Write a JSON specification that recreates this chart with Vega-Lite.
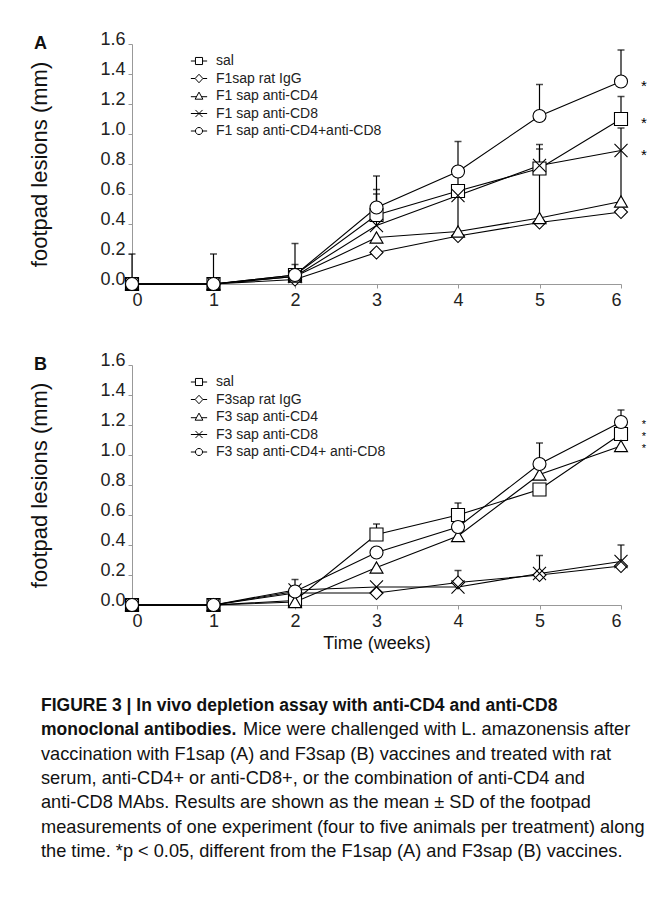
{
  "$schema": "https://vega.github.io/schema/vega-lite/v6.json",
  "padding": {"left": 28, "top": 30, "right": 5, "bottom": 5},
  "spacing": 42,
  "config": {
    "font": "Liberation Sans",
    "view": {"stroke": null},
    "axis": {"grid": false, "labelColor": "#222", "titleColor": "#111", "titleFontWeight": "normal", "domainColor": "#999", "tickColor": "#999", "labelFont": "Liberation Sans", "titleFont": "Liberation Sans"}
  },
  "datasets": {
    "A": [
      {"week": 0, "series": "sal", "value": 0},
      {"week": 1, "series": "sal", "value": 0},
      {"week": 2, "series": "sal", "value": 0.06, "top": 0.13},
      {"week": 3, "series": "sal", "value": 0.46, "top": 0.63},
      {"week": 4, "series": "sal", "value": 0.62},
      {"week": 5, "series": "sal", "value": 0.77, "top": 0.9},
      {"week": 6, "series": "sal", "value": 1.1, "top": 1.25, "sig": "*"},
      {"week": 0, "series": "F1sap rat IgG", "value": 0},
      {"week": 1, "series": "F1sap rat IgG", "value": 0},
      {"week": 2, "series": "F1sap rat IgG", "value": 0.03},
      {"week": 3, "series": "F1sap rat IgG", "value": 0.21},
      {"week": 4, "series": "F1sap rat IgG", "value": 0.32},
      {"week": 5, "series": "F1sap rat IgG", "value": 0.41},
      {"week": 6, "series": "F1sap rat IgG", "value": 0.48},
      {"week": 0, "series": "F1 sap anti-CD4", "value": 0},
      {"week": 1, "series": "F1 sap anti-CD4", "value": 0},
      {"week": 2, "series": "F1 sap anti-CD4", "value": 0.05},
      {"week": 3, "series": "F1 sap anti-CD4", "value": 0.31},
      {"week": 4, "series": "F1 sap anti-CD4", "value": 0.35, "top": 0.75},
      {"week": 5, "series": "F1 sap anti-CD4", "value": 0.44, "top": 0.78},
      {"week": 6, "series": "F1 sap anti-CD4", "value": 0.55, "top": 1.04},
      {"week": 0, "series": "F1 sap anti-CD8", "value": 0},
      {"week": 1, "series": "F1 sap anti-CD8", "value": 0},
      {"week": 2, "series": "F1 sap anti-CD8", "value": 0.05},
      {"week": 3, "series": "F1 sap anti-CD8", "value": 0.39, "top": 0.6},
      {"week": 4, "series": "F1 sap anti-CD8", "value": 0.59},
      {"week": 5, "series": "F1 sap anti-CD8", "value": 0.79, "top": 0.93},
      {"week": 6, "series": "F1 sap anti-CD8", "value": 0.89, "sig": "*"},
      {"week": 0, "series": "F1 sap anti-CD4+anti-CD8", "value": 0, "top": 0.2},
      {"week": 1, "series": "F1 sap anti-CD4+anti-CD8", "value": 0, "top": 0.2},
      {"week": 2, "series": "F1 sap anti-CD4+anti-CD8", "value": 0.06, "top": 0.27},
      {"week": 3, "series": "F1 sap anti-CD4+anti-CD8", "value": 0.51, "top": 0.72},
      {"week": 4, "series": "F1 sap anti-CD4+anti-CD8", "value": 0.75, "top": 0.95},
      {"week": 5, "series": "F1 sap anti-CD4+anti-CD8", "value": 1.12, "top": 1.33},
      {"week": 6, "series": "F1 sap anti-CD4+anti-CD8", "value": 1.35, "top": 1.56, "sig": "*"}
    ],
    "B": [
      {"week": 0, "series": "sal", "value": 0},
      {"week": 1, "series": "sal", "value": 0},
      {"week": 2, "series": "sal", "value": 0.03},
      {"week": 3, "series": "sal", "value": 0.47, "top": 0.54},
      {"week": 4, "series": "sal", "value": 0.6, "top": 0.68},
      {"week": 5, "series": "sal", "value": 0.77},
      {"week": 6, "series": "sal", "value": 1.14, "sig": "*"},
      {"week": 0, "series": "F3sap rat IgG", "value": 0},
      {"week": 1, "series": "F3sap rat IgG", "value": 0},
      {"week": 2, "series": "F3sap rat IgG", "value": 0.08},
      {"week": 3, "series": "F3sap rat IgG", "value": 0.08},
      {"week": 4, "series": "F3sap rat IgG", "value": 0.15, "top": 0.23},
      {"week": 5, "series": "F3sap rat IgG", "value": 0.2},
      {"week": 6, "series": "F3sap rat IgG", "value": 0.26},
      {"week": 0, "series": "F3 sap anti-CD4", "value": 0},
      {"week": 1, "series": "F3 sap anti-CD4", "value": 0},
      {"week": 2, "series": "F3 sap anti-CD4", "value": 0.02},
      {"week": 3, "series": "F3 sap anti-CD4", "value": 0.25},
      {"week": 4, "series": "F3 sap anti-CD4", "value": 0.46},
      {"week": 5, "series": "F3 sap anti-CD4", "value": 0.87},
      {"week": 6, "series": "F3 sap anti-CD4", "value": 1.06, "sig": "*"},
      {"week": 0, "series": "F3 sap anti-CD8", "value": 0},
      {"week": 1, "series": "F3 sap anti-CD8", "value": 0},
      {"week": 2, "series": "F3 sap anti-CD8", "value": 0.1},
      {"week": 3, "series": "F3 sap anti-CD8", "value": 0.12},
      {"week": 4, "series": "F3 sap anti-CD8", "value": 0.12},
      {"week": 5, "series": "F3 sap anti-CD8", "value": 0.21, "top": 0.33},
      {"week": 6, "series": "F3 sap anti-CD8", "value": 0.29, "top": 0.4},
      {"week": 0, "series": "F3 sap anti-CD4+ anti-CD8", "value": 0},
      {"week": 1, "series": "F3 sap anti-CD4+ anti-CD8", "value": 0},
      {"week": 2, "series": "F3 sap anti-CD4+ anti-CD8", "value": 0.09, "top": 0.17},
      {"week": 3, "series": "F3 sap anti-CD4+ anti-CD8", "value": 0.35},
      {"week": 4, "series": "F3 sap anti-CD4+ anti-CD8", "value": 0.52},
      {"week": 5, "series": "F3 sap anti-CD4+ anti-CD8", "value": 0.94, "top": 1.08},
      {"week": 6, "series": "F3 sap anti-CD4+ anti-CD8", "value": 1.22, "top": 1.3, "sig": "*"}
    ],
    "cap": [
      {"line": 1, "part": "head", "text": "FIGURE 3 | In vivo depletion assay with anti-CD4 and anti-CD8"},
      {"line": 2, "part": "head", "text": "monoclonal antibodies."},
      {"line": 2, "part": "tail", "text": "Mice were challenged with L. amazonensis after"},
      {"line": 3, "part": "body", "text": "vaccination with F1sap (A) and F3sap (B) vaccines and treated with rat"},
      {"line": 4, "part": "body", "text": "serum, anti-CD4+ or anti-CD8+, or the combination of anti-CD4 and"},
      {"line": 5, "part": "body", "text": "anti-CD8 MAbs. Results are shown as the mean ± SD of the footpad"},
      {"line": 6, "part": "body", "text": "measurements of one experiment (four to five animals per treatment) along"},
      {"line": 7, "part": "body", "text": "the time. *p < 0.05, different from the F1sap (A) and F3sap (B) vaccines."}
    ]
  },
  "vconcat": [
    {
      "width": 489,
      "height": 240,
      "title": {"text": "A", "anchor": "start", "frame": "bounds", "offset": -23, "dx": 5, "fontSize": 18, "fontWeight": "bold", "color": "#111"},
      "data": {"name": "A"},
      "encoding": {
        "x": {"field": "week", "type": "quantitative", "scale": {"domain": [0, 6], "nice": false}, "axis": {"values": [0, 1, 2, 3, 4, 5, 6], "format": "d", "title": null, "labelFontSize": 18, "tickSize": 4, "labelPadding": 3}},
        "y": {"field": "value", "type": "quantitative", "title": "footpad lesions (mm)", "scale": {"domain": [0, 1.6], "nice": false}, "axis": {"values": [0, 0.2, 0.4, 0.6, 0.8, 1.0, 1.2, 1.4, 1.6], "format": ".1f", "titleFontSize": 22, "titlePadding": 48, "labelFontSize": 18, "labelBaseline": "alphabetic", "tickSize": 4, "labelPadding": 3}}
      },
      "layer": [
        {"transform": [{"filter": "isValid(datum.top)"}], "mark": {"type": "rule", "color": "black", "strokeWidth": 1.2}, "encoding": {"y2": {"field": "top"}}},
        {"transform": [{"filter": "isValid(datum.top)"}], "mark": {"type": "tick", "orient": "horizontal", "color": "black", "size": 7, "thickness": 1.5}, "encoding": {"y": {"field": "top", "type": "quantitative", "title": "footpad lesions (mm)"}}},
        {"mark": {"type": "line", "color": "black", "strokeWidth": 1.1}, "encoding": {"detail": {"field": "series"}, "order": {"field": "week"}}},
        {"mark": {"type": "point", "filled": true, "fill": "white", "stroke": "black", "strokeWidth": 1.1, "size": 170, "opacity": 1},
         "encoding": {"shape": {"field": "series", "scale": {"domain": ["sal", "F1sap rat IgG", "F1 sap anti-CD4", "F1 sap anti-CD8", "F1 sap anti-CD4+anti-CD8"], "range": ["square", "diamond", "triangle-up", "M-1,-1L1,1M1,-1L-1,1", "circle"]}, "legend": null}}},
        {"transform": [{"filter": "false"}],
         "mark": {"type": "point", "filled": false, "color": "black", "strokeWidth": 1},
         "encoding": {"shape": {"field": "series", "scale": {"domain": ["sal", "F1sap rat IgG", "F1 sap anti-CD4", "F1 sap anti-CD8", "F1 sap anti-CD4+anti-CD8"], "range": ["M-2.3,0H-1M-1,-1H1V1H-1ZM1,0H2.3", "M-2.3,0H-1.1M0,-1.2L1.1,0L0,1.2L-1.1,0ZM1.1,0H2.3", "M-2.3,0.2H-0.7M0,-1.1L1.1,0.9H-1.1ZM0.7,0.2H2.3", "M-2.3,0H2.3M-1,-1L1,1M1,-1L-1,1", "M-2.3,0H-1M1,0A1,1,0,1,1,-1,0A1,1,0,1,1,1,0ZM1,0H2.3"]},
           "legend": {"orient": "none", "legendX": 60, "legendY": 10, "title": null, "symbolSize": 50, "symbolStrokeWidth": 1, "symbolStrokeColor": "black", "symbolOpacity": 1, "labelFontSize": 14, "labelFont": "Liberation Sans", "labelColor": "#222", "labelOffset": 10, "rowPadding": 3.5, "labelLimit": 400}}}},
        {"transform": [{"filter": "datum.sig == '*'"}], "mark": {"type": "text", "text": "*", "fontSize": 15, "dx": 23, "dy": 4, "color": "black"}}
      ],
      "resolve": {"scale": {"shape": "independent"}, "legend": {"shape": "independent"}}
    },
    {
      "width": 489,
      "height": 240,
      "title": {"text": "B", "anchor": "start", "frame": "bounds", "offset": -23, "dx": 5, "fontSize": 18, "fontWeight": "bold", "color": "#111"},
      "data": {"name": "B"},
      "encoding": {
        "x": {"field": "week", "type": "quantitative", "title": "Time (weeks)", "scale": {"domain": [0, 6], "nice": false}, "axis": {"values": [0, 1, 2, 3, 4, 5, 6], "format": "d", "labelFontSize": 18, "tickSize": 4, "labelPadding": 3, "titleFontSize": 18, "titlePadding": 4}},
        "y": {"field": "value", "type": "quantitative", "title": "footpad lesions (mm)", "scale": {"domain": [0, 1.6], "nice": false}, "axis": {"values": [0, 0.2, 0.4, 0.6, 0.8, 1.0, 1.2, 1.4, 1.6], "format": ".1f", "titleFontSize": 22, "titlePadding": 48, "labelFontSize": 18, "labelBaseline": "alphabetic", "tickSize": 4, "labelPadding": 3}}
      },
      "layer": [
        {"transform": [{"filter": "isValid(datum.top)"}], "mark": {"type": "rule", "color": "black", "strokeWidth": 1.2}, "encoding": {"y2": {"field": "top"}}},
        {"transform": [{"filter": "isValid(datum.top)"}], "mark": {"type": "tick", "orient": "horizontal", "color": "black", "size": 7, "thickness": 1.5}, "encoding": {"y": {"field": "top", "type": "quantitative", "title": "footpad lesions (mm)"}}},
        {"mark": {"type": "line", "color": "black", "strokeWidth": 1.1}, "encoding": {"detail": {"field": "series"}, "order": {"field": "week"}}},
        {"mark": {"type": "point", "filled": true, "fill": "white", "stroke": "black", "strokeWidth": 1.1, "size": 170, "opacity": 1},
         "encoding": {"shape": {"field": "series", "scale": {"domain": ["sal", "F3sap rat IgG", "F3 sap anti-CD4", "F3 sap anti-CD8", "F3 sap anti-CD4+ anti-CD8"], "range": ["square", "diamond", "triangle-up", "M-1,-1L1,1M1,-1L-1,1", "circle"]}, "legend": null}}},
        {"transform": [{"filter": "false"}],
         "mark": {"type": "point", "filled": false, "color": "black", "strokeWidth": 1},
         "encoding": {"shape": {"field": "series", "scale": {"domain": ["sal", "F3sap rat IgG", "F3 sap anti-CD4", "F3 sap anti-CD8", "F3 sap anti-CD4+ anti-CD8"], "range": ["M-2.3,0H-1M-1,-1H1V1H-1ZM1,0H2.3", "M-2.3,0H-1.1M0,-1.2L1.1,0L0,1.2L-1.1,0ZM1.1,0H2.3", "M-2.3,0.2H-0.7M0,-1.1L1.1,0.9H-1.1ZM0.7,0.2H2.3", "M-2.3,0H2.3M-1,-1L1,1M1,-1L-1,1", "M-2.3,0H-1M1,0A1,1,0,1,1,-1,0A1,1,0,1,1,1,0ZM1,0H2.3"]},
           "legend": {"orient": "none", "legendX": 60, "legendY": 10, "title": null, "symbolSize": 50, "symbolStrokeWidth": 1, "symbolStrokeColor": "black", "symbolOpacity": 1, "labelFontSize": 14, "labelFont": "Liberation Sans", "labelColor": "#222", "labelOffset": 10, "rowPadding": 3.5, "labelLimit": 400}}}},
        {"transform": [{"filter": "datum.sig == '*'"}], "mark": {"type": "text", "text": "*", "fontSize": 11, "dx": 23, "dy": 3, "color": "black"}}
      ],
      "resolve": {"scale": {"shape": "independent"}, "legend": {"shape": "independent"}}
    },
    {
      "width": 489,
      "height": {"step": 24.3},
      "data": {"name": "cap"},
      "encoding": {
        "y": {"field": "line", "type": "ordinal", "axis": null},
        "text": {"field": "text"}
      },
      "layer": [
        {"transform": [{"filter": "datum.part == 'head'"}], "mark": {"type": "text", "align": "left", "baseline": "middle", "fontSize": 17.5, "fontWeight": "bold", "color": "#111"}, "encoding": {"x": {"value": -91}}},
        {"transform": [{"filter": "datum.part == 'body'"}], "mark": {"type": "text", "align": "left", "baseline": "middle", "fontSize": 18.2, "color": "#111"}, "encoding": {"x": {"value": -91}}},
        {"transform": [{"filter": "datum.part == 'tail'"}], "mark": {"type": "text", "align": "left", "baseline": "middle", "fontSize": 18.2, "color": "#111"}, "encoding": {"x": {"value": 111}}}
      ]
    }
  ]
}
